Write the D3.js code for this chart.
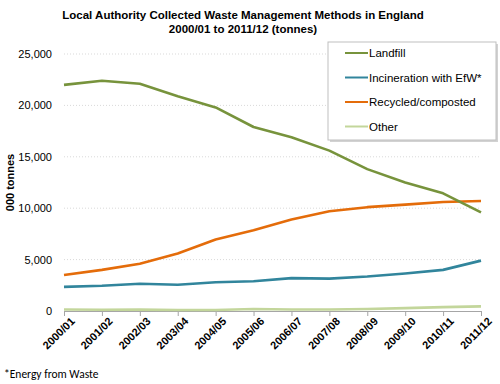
<!DOCTYPE html>
<html>
<head>
<meta charset="utf-8">
<script src="https://cdn.jsdelivr.net/npm/d3@7"></script>
<style>
  body { margin: 0; background: #fff; }
  text { font-family: "Liberation Sans", Arial, sans-serif; }
</style>
</head>
<body>
<div class="canva"></div>
<script>
const years = ['2000/01','2001/02','2002/03','2003/04','2004/05','2005/06',
               '2006/07','2007/08','2008/09','2009/10','2010/11','2011/12']
const landfill = [22000, 22400, 22100, 20900, 19800, 17900, 16900, 15600, 13800, 12500, 11450, 9600]
const incineration = [2350, 2450, 2650, 2550, 2800, 2900, 3200, 3150, 3350, 3650, 4000, 4900]
const recycled = [3500, 4000, 4600, 5600, 6950, 7850, 8900, 9700, 10100, 10350, 10600, 10700]
const other = [150, 120, 130, 100, 100, 200, 150, 150, 200, 280, 380, 450]
const yTicks = [0, 5000, 10000, 15000, 20000, 25000]

const series = [
  {name: 'Landfill', values: landfill, color: '#77933c'},
  {name: 'Incineration with EfW*', values: incineration, color: '#31859c'},
  {name: 'Recycled/composted', values: recycled, color: '#e46c0a'},
  {name: 'Other', values: other, color: '#c3d69b'}
]

const width = 500, height = 384
const margin = {top: 54, right: 19, bottom: 73, left: 64}

const svg = d3.select('.canva').append('svg')
  .attr('width', width)
  .attr('height', height)

const x = d3.scalePoint()
  .domain(years)
  .range([margin.left, width - margin.right])

const y = d3.scaleLinear()
  .domain([0, 25000])
  .range([height - margin.bottom, margin.top])

// title
svg.append('text')
  .attr('x', 243).attr('y', 19)
  .attr('text-anchor', 'middle')
  .style('font-size', '11.5px').style('font-weight', 'bold')
  .text('Local Authority Collected Waste Management Methods in England')
svg.append('text')
  .attr('x', 243).attr('y', 33)
  .attr('text-anchor', 'middle')
  .style('font-size', '11.5px').style('font-weight', 'bold')
  .text('2000/01 to 2011/12 (tonnes)')

// gridlines
svg.append('g')
  .selectAll('line')
  .data(yTicks.filter(d => d > 0))
  .enter().append('line')
  .attr('x1', margin.left).attr('x2', width - margin.right)
  .attr('y1', d => y(d)).attr('y2', d => y(d))
  .attr('stroke', '#d9d9d9')
  .attr('stroke-dasharray', '1,2')

// y axis labels
const yAxis = svg.append('g')
  .attr('transform', `translate(${margin.left},0)`)
  .call(d3.axisLeft(y).tickValues(yTicks).tickFormat(d3.format(',')).tickSize(0).tickPadding(12))
yAxis.select('.domain').remove()
yAxis.selectAll('text')
  .style('font-size', '11px')
  .style('font-family', '"Liberation Sans", Arial, sans-serif')
  .attr('fill', '#000')

svg.append('text')
  .attr('transform', `translate(10,${y(12500)}) rotate(-90)`)
  .attr('text-anchor', 'middle')
  .attr('dy', '0.35em')
  .style('font-size', '11px').style('font-weight', 'bold')
  .text('000 tonnes')

// x axis
const xAxis = svg.append('g')
  .attr('transform', `translate(0,${y(0)})`)
  .call(d3.axisBottom(x).tickSize(5).tickSizeOuter(0))
xAxis.select('.domain').attr('stroke', '#a6a6a6')
xAxis.selectAll('.tick line').attr('stroke', '#a6a6a6')
xAxis.selectAll('text')
  .style('font-size', '11px')
  .style('font-weight', 'bold')
  .style('font-family', '"Liberation Sans", Arial, sans-serif')
  .attr('fill', '#000')
  .attr('text-anchor', 'end')
  .attr('transform', 'translate(4,4) rotate(-45)')
  .attr('dy', '0.35em')
  .attr('y', 6)
  .attr('x', 0)

// lines
const line = d3.line()
  .x((d, i) => x(years[i]))
  .y(d => y(d))

svg.append('g')
  .selectAll('path')
  .data(series.slice().reverse())
  .enter().append('path')
  .attr('fill', 'none')
  .attr('stroke', d => d.color)
  .attr('stroke-width', 2.6)
  .attr('stroke-linejoin', 'round')
  .attr('d', d => line(d.values))

// legend
const legend = svg.append('g')
const lx = 328, ly = 42, lw = 168, lh = 98
legend.append('rect')
  .attr('x', lx + 2).attr('y', ly + 2).attr('width', lw).attr('height', lh)
  .attr('fill', '#bfbfbf').attr('opacity', 0.7)
legend.append('rect')
  .attr('x', lx).attr('y', ly).attr('width', lw).attr('height', lh)
  .attr('fill', '#fff').attr('stroke', '#bfbfbf')

const items = legend.selectAll('.item')
  .data(series)
  .enter().append('g')
  .attr('class', 'item')
  .attr('transform', (d, i) => `translate(${lx + 17},${ly + 11 + i * 24.5})`)
items.append('line')
  .attr('x1', 0).attr('x2', 23)
  .attr('stroke', d => d.color)
  .attr('stroke-width', 2)
items.append('text')
  .attr('x', 24).attr('dy', '0.35em')
  .style('font-size', '11.5px')
  .text(d => d.name)

// footnote
svg.append('text')
  .attr('x', 4).attr('y', 378)
  .style('font-size', '11.5px')
  .style('font-family', 'Carlito, Calibri, "Open Sans", sans-serif')
  .text('*Energy from Waste')
</script>
</body>
</html>
